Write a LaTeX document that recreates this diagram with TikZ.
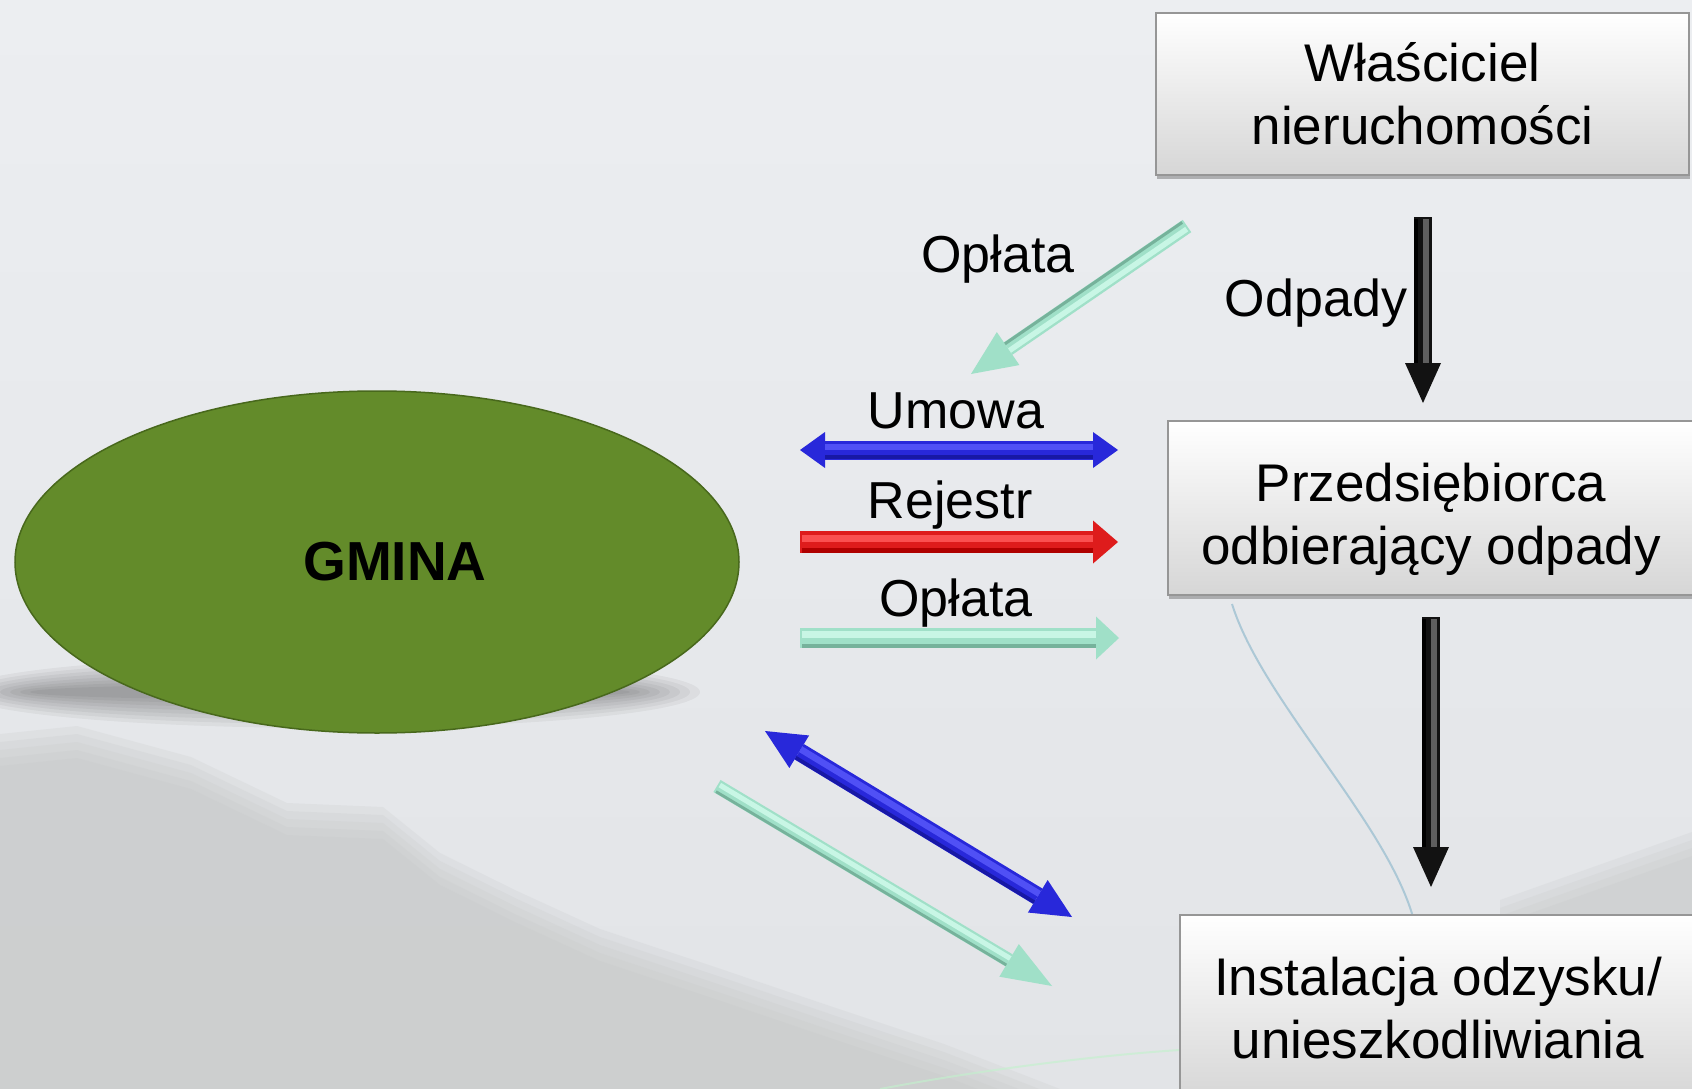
\documentclass[tikz,border=0pt]{standalone}
\usepackage{fontspec}
\setmainfont{Liberation Sans}
\usetikzlibrary{arrows.meta,calc,shapes.geometric,shadows}
\definecolor{bgtop}{RGB}{236,238,241}
\definecolor{bgbot}{RGB}{226,228,231}
\definecolor{mtn}{RGB}{196,198,198}
\definecolor{cable}{RGB}{172,200,214}
\definecolor{boxbot}{RGB}{214,214,214}
\definecolor{boxedge}{RGB}{150,150,150}
\definecolor{gmgreen}{RGB}{99,139,42}
\definecolor{gmdark}{RGB}{72,104,28}
\definecolor{bluebase}{RGB}{40,40,218}
\definecolor{bluehi}{RGB}{80,80,245}
\definecolor{bluedk}{RGB}{24,24,165}
\definecolor{redbase}{RGB}{222,28,28}
\definecolor{redhi}{RGB}{250,80,80}
\definecolor{reddk}{RGB}{175,0,0}
\definecolor{mintbase}{RGB}{160,224,200}
\definecolor{minthi}{RGB}{200,246,229}
\definecolor{mintdk}{RGB}{118,178,155}
\definecolor{blkbase}{RGB}{18,18,18}
\definecolor{blkhi}{RGB}{95,95,95}
\definecolor{blkdk}{RGB}{0,0,0}
\tikzset{
  lab/.style={font=\fontsize{52}{62}\selectfont, anchor=base, inner sep=0pt},
  boxnode/.style={rectangle, draw=boxedge, line width=1.2pt, top color=white,
    bottom color=boxbot, font=\fontsize{53}{63}\selectfont, align=center,
    inner sep=0pt, drop shadow={shadow xshift=1pt, shadow yshift=-4pt,
    opacity=0.45, fill=black!60}},
}
% #1 tips, #2 from, #3 to, #4 shaft width, #5 end shorten, #6 colour prefix, #7 start shorten
\newcommand\myBArrow[7]{%
  \pgfmathsetlengthmacro\myhw{0.36*#4 pt}%
  \pgfmathsetlengthmacro\myho{0.16*#4 pt}%
  \pgfmathsetlengthmacro\mydw{0.2*#4 pt}%
  \pgfmathsetlengthmacro\mydo{0.38*#4 pt}%
  \draw[#6base, line width=#4pt, #1] (#2) -- (#3);
  \draw[#6hi, line width=\myhw, shorten <=#7pt, shorten >=#5pt]
    ($(#2)!\myho!90:(#3)$) -- ($(#3)!\myho!-90:(#2)$);
  \draw[#6dk, line width=\mydw, shorten <=#7pt, shorten >=#5pt]
    ($(#2)!\mydo!-90:(#3)$) -- ($(#3)!\mydo!90:(#2)$);
}
\begin{document}
\begin{tikzpicture}[x=1pt,y=-1pt]
\useasboundingbox (0,0) rectangle (1692,1089);
\clip (0,0) rectangle (1692,1089);
% background photo (sky and mountains)
\shade[top color=bgtop, bottom color=bgbot] (0,0) rectangle (1692,1089);
\foreach \d in {0,8,16,24,32}
  \fill[mtn, opacity=0.2]
  (0,{734+\d}) -- (77,{726+\d}) -- (191,{757+\d}) -- (287,{803+\d}) -- (383,{807+\d})
  -- (440,{853+\d}) -- (517,{891+\d}) -- (600,{929+\d}) -- (715,{967+\d})
  -- (830,{1006+\d}) -- (944,{1044+\d}) -- (1060,{1089+\d}) -- (0,1100) -- cycle;
\foreach \d in {0,8,16,24}
  \fill[mtn, opacity=0.2] (1500,{900+\d}) -- (1692,{832+\d}) -- (1692,1089) -- (1500,1089) -- cycle;
\draw[cable, line width=2pt] (1232,604) .. controls (1262,700) and (1385,820) .. (1413,917);
\draw[cable!60!green!40, line width=2pt, opacity=0.6] (880,1089) .. controls (980,1070) and (1100,1055) .. (1180,1050);
% shadow under the ellipse
\foreach \k in {0,...,7}
  \fill[black, opacity=0.045] (330,692) ellipse [x radius={370-10*\k}, y radius={36-4*\k}];

% main nodes
\node[ellipse, minimum width=724pt, minimum height=342pt, fill=gmgreen,
  draw=gmdark, line width=1.5pt, inner sep=0pt,
  font=\bfseries\fontsize{55}{60}\selectfont] (gmina) at (377,562) {\hspace*{36pt}GMINA};
\node[boxnode, minimum width=533pt, minimum height=162pt] (owner) at (1422.5,94)
  {Właściciel\\nieruchomości};
\node[boxnode, minimum width=526pt, minimum height=174pt] (firm) at (1431,508)
  {\rule{0pt}{62pt}Przedsiębiorca\\odbierający odpady};
\node[boxnode, minimum width=516pt, minimum height=186pt] (plant) at (1438,1008)
  {Instalacja odzysku/\\unieszkodliwiania};

% labels
\node[lab] (lopl1) at (998,272) {Opłata};
\node[lab] (lodp) at (1316,316) {Odpady};
\node[lab] (lumo) at (956,428) {Umowa};
\node[lab] (lrej) at (950,518) {Rejestr};
\node[lab] (lopl2) at (956,616) {Opłata};

% arrow end points
\coordinate (o1s) at (1187,226);
\coordinate (o1e) at (971,374);
\coordinate (um1) at (800,450);
\coordinate (um2) at (1118,450);
\coordinate (rj1) at (800,542);
\coordinate (rj2) at (1118,542);
\coordinate (op1) at (800,638);
\coordinate (op2) at (1119,638);
\coordinate (od1) at (1423,217);
\coordinate (od2) at (1423,403);
\coordinate (bk1) at (1431,617);
\coordinate (bk2) at (1431,887);
\coordinate (bd1) at (765,731);
\coordinate (bd2) at (1072,917);
\coordinate (md1) at (717,786);
\coordinate (md2) at (1052,986);

% arrows
\myBArrow{-{Triangle[length=45pt,width=40pt,line width=0pt]}}{o1s}{o1e}{15}{45}{mint}{2}
\myBArrow{{Triangle[length=25pt,width=36pt,line width=0pt]}-{Triangle[length=25pt,width=36pt,line width=0pt]}}{um1}{um2}{19}{25}{blue}{25}
\myBArrow{-{Triangle[length=25pt,width=43pt,line width=0pt]}}{rj1}{rj2}{22}{25}{red}{2}
\myBArrow{-{Triangle[length=23pt,width=43pt,line width=0pt]}}{op1}{op2}{20}{23}{mint}{2}
\myBArrow{-{Triangle[length=40pt,width=36pt,line width=0pt]}}{od1}{od2}{18}{40}{blk}{2}
\myBArrow{-{Triangle[length=40pt,width=36pt,line width=0pt]}}{bk1}{bk2}{18}{40}{blk}{2}
\myBArrow{{Triangle[length=40pt,width=38pt,line width=0pt]}-{Triangle[length=40pt,width=38pt,line width=0pt]}}{bd1}{bd2}{18}{40}{blue}{40}
\myBArrow{-{Triangle[length=50pt,width=38pt,line width=0pt]}}{md1}{md2}{14}{50}{mint}{2}
\end{tikzpicture}
\end{document}
